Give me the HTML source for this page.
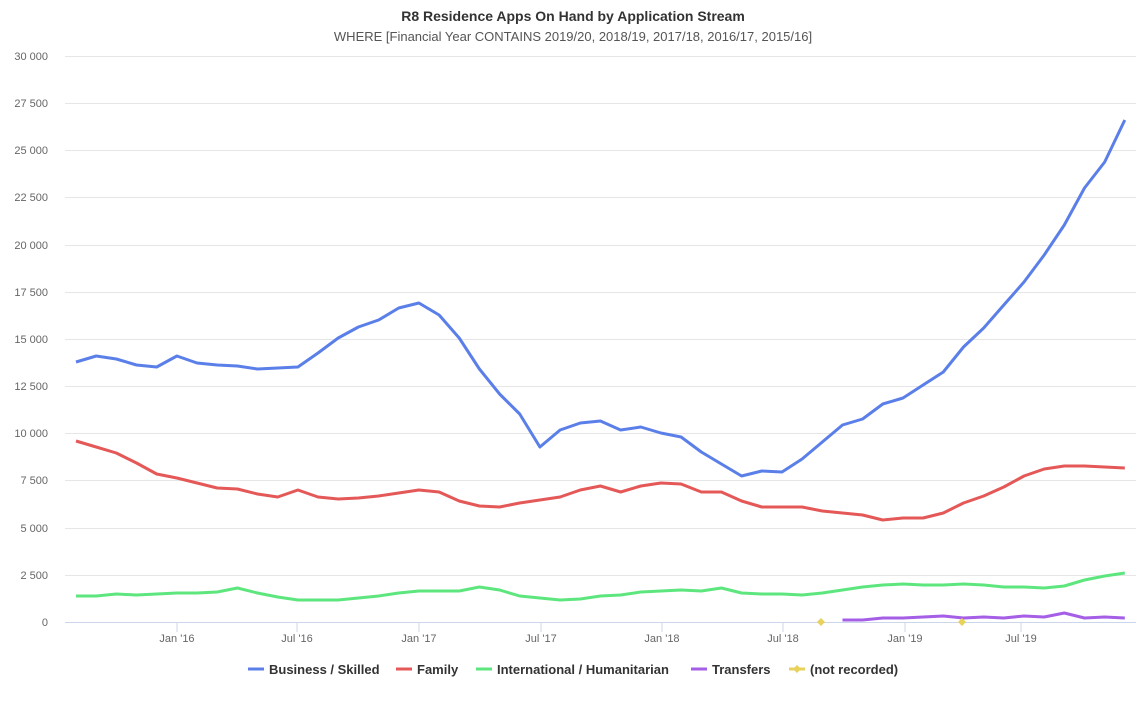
<!DOCTYPE html>
<html><head><meta charset="utf-8"><style>
body{margin:0;background:#fff;font-family:"Liberation Sans",sans-serif}
text{font-family:"Liberation Sans",sans-serif}
</style></head><body>
<svg width="1146" height="700" xmlns="http://www.w3.org/2000/svg">
<rect width="1146" height="700" fill="#fff"/>
<text x="573" y="21" text-anchor="middle" font-size="14" font-weight="bold" fill="#333">R8 Residence Apps On Hand by Application Stream</text>
<text x="573" y="41" text-anchor="middle" font-size="13" fill="#555">WHERE [Financial Year CONTAINS 2019/20, 2018/19, 2017/18, 2016/17, 2015/16]</text>
<g stroke="#e6e6e6" stroke-width="1">
<line x1="65" x2="1136" y1="56.5" y2="56.5"/><line x1="65" x2="1136" y1="103.5" y2="103.5"/><line x1="65" x2="1136" y1="150.5" y2="150.5"/><line x1="65" x2="1136" y1="197.5" y2="197.5"/><line x1="65" x2="1136" y1="245.5" y2="245.5"/><line x1="65" x2="1136" y1="292.5" y2="292.5"/><line x1="65" x2="1136" y1="339.5" y2="339.5"/><line x1="65" x2="1136" y1="386.5" y2="386.5"/><line x1="65" x2="1136" y1="433.5" y2="433.5"/><line x1="65" x2="1136" y1="480.5" y2="480.5"/><line x1="65" x2="1136" y1="528.5" y2="528.5"/><line x1="65" x2="1136" y1="575.5" y2="575.5"/>
</g>
<line x1="65" x2="1136" y1="622.5" y2="622.5" stroke="#ccd6eb"/>
<g font-size="11" fill="#666" text-anchor="end">
<text x="48" y="60">30 000</text><text x="48" y="107">27 500</text><text x="48" y="154">25 000</text><text x="48" y="201">22 500</text><text x="48" y="249">20 000</text><text x="48" y="296">17 500</text><text x="48" y="343">15 000</text><text x="48" y="390">12 500</text><text x="48" y="437">10 000</text><text x="48" y="484">7 500</text><text x="48" y="532">5 000</text><text x="48" y="579">2 500</text><text x="48" y="626">0</text>
</g>
<g stroke="#ccd6eb"><line x1="177" x2="177" y1="622" y2="632"/><line x1="297" x2="297" y1="622" y2="632"/><line x1="419" x2="419" y1="622" y2="632"/><line x1="541" x2="541" y1="622" y2="632"/><line x1="662" x2="662" y1="622" y2="632"/><line x1="783" x2="783" y1="622" y2="632"/><line x1="905" x2="905" y1="622" y2="632"/><line x1="1021" x2="1021" y1="622" y2="632"/></g>
<g font-size="11" fill="#666" text-anchor="middle">
<text x="177" y="642">Jan '16</text><text x="297" y="642">Jul '16</text><text x="419" y="642">Jan '17</text><text x="541" y="642">Jul '17</text><text x="662" y="642">Jan '18</text><text x="783" y="642">Jul '18</text><text x="905" y="642">Jan '19</text><text x="1021" y="642">Jul '19</text>
</g>
<g fill="none" stroke-width="3" stroke-linejoin="round" id="series"></g>
<g font-size="13" font-weight="bold" fill="#333">
<line x1="248" x2="264" y1="669" y2="669" stroke="#5b7fe8" stroke-width="3"/><text x="269" y="674">Business / Skilled</text>
<line x1="396" x2="412" y1="669" y2="669" stroke="#e45858" stroke-width="3"/><text x="417" y="674">Family</text>
<line x1="476" x2="492" y1="669" y2="669" stroke="#5ee67e" stroke-width="3"/><text x="497" y="674">International / Humanitarian</text>
<line x1="691" x2="707" y1="669" y2="669" stroke="#a55ee6" stroke-width="3"/><text x="712" y="674">Transfers</text>
<line x1="789" x2="805" y1="669" y2="669" stroke="#e8d25b" stroke-width="3"/><path d="M797 665 L801 669 L797 673 L793 669Z" fill="#e8d25b"/><text x="810" y="674">(not recorded)</text>
</g>
<path d="M821 618 L825 622 L821 626 L817 622Z" fill="#e8d25b"/>
<path d="M962 618 L966 622 L962 626 L958 622Z" fill="#e8d25b"/>
<script>
var B=[362,356,359,365,367,356,363,365,366,369,368,367,353,338,327,320,308,303,315,338,369,394,414,447,430,423,421,430,427,433,437,452,464,476,471,472,459,442,425,419,404,398,385,372,347,328,305,282,255,225,188,162,120];
var R=[441,447,453,463,474,478,483,488,489,494,497,490,497,499,498,496,493,490,492,501,506,507,503,500,497,490,486,492,486,483,484,492,492,501,507,507,507,511,513,515,520,518,518,513,503,496,487,476,469,466,466,467,468];
var G=[596,596,594,595,594,593,593,592,588,593,597,600,600,600,598,596,593,591,591,591,587,590,596,598,600,599,596,595,592,591,590,591,588,593,594,594,595,593,590,587,585,584,585,585,584,585,587,587,588,586,580,576,573];
var P=[620,620,618,618,617,616,618,617,618,616,617,613,618,617,618];
function pts(a,o){return a.map(function(y,i){return (76+20.17*(i+o)).toFixed(1)+","+y}).join(" ");}
var g=document.getElementById("series");
[[B,0,"#5b7fe8"],[R,0,"#e45858"],[G,0,"#5ee67e"],[P,38,"#a55ee6"]].forEach(function(s){
var p=document.createElementNS("http://www.w3.org/2000/svg","polyline");
p.setAttribute("points",pts(s[0],s[1]));p.setAttribute("stroke",s[2]);g.appendChild(p);});
</script>
</svg>
</body></html>
